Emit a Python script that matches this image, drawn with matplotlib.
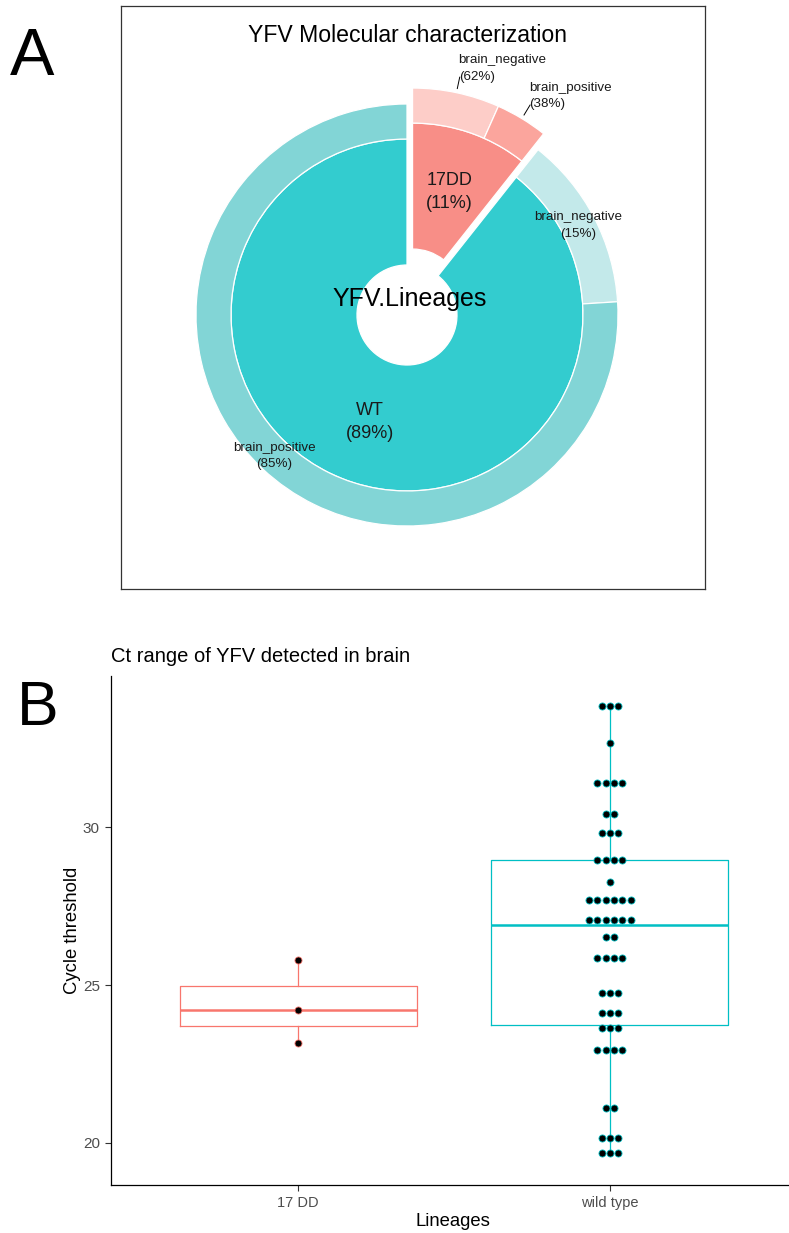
import numpy as np
import matplotlib
matplotlib.use("Agg")
import matplotlib.pyplot as plt

plt.rcParams["font.family"] = ["Liberation Sans", "DejaVu Sans"]

# ---------------- Panel A data ----------------
lineages = ["17DD", "WT"]
brain_status = ["brain_negative", "brain_positive"]
counts_17dd = [5, 3]      # brain_negative, brain_positive
counts_wt = [10, 57]      # brain_negative, brain_positive

# ---------------- Panel B data ----------------
box_categories = ["17 DD", "wild type"]
ct_17dd_values = [25.79, 24.21, 23.16]
ct_17dd_counts = [1, 1, 1]
ct_wt_values = [33.84, 32.65, 31.40, 30.41, 29.80, 28.96, 28.27, 27.69, 27.06,
                26.53, 25.86, 24.74, 24.12, 23.65, 22.94, 21.12, 20.15, 19.67]
ct_wt_counts = [3, 1, 4, 2, 3, 4, 1, 6, 6, 2, 4, 3, 3, 3, 4, 2, 3, 3]
box_17dd = dict(whislo=23.16, q1=23.70, med=24.21, q3=24.97, whishi=25.79)
box_wt = dict(whislo=19.67, q1=23.73, med=26.91, q3=28.97, whishi=33.84)
y_ticks = [20, 25, 30]

# colours
inner_colors = ["#F88E87", "#33CCCF"]
outer_colors = ["#FDCDC8", "#FBA59D", "#C3E9EA", "#82D5D6"]
line_colors = ["#F8766D", "#00BFC4"]

W, H = 789, 1233
fig = plt.figure(figsize=(W / 100, H / 100), dpi=100)

# ================= Panel A =================
R_OUT, R_IN, R0, EXPL = 1.0, 0.834, 0.237, 0.08
S = 211.0  # px per unit
axA = fig.add_axes([121 / W, (H - 589) / H, 584 / W, 583 / H])

group_totals = [sum(counts_17dd), sum(counts_wt)]
total = sum(group_totals)
inner_w, _ = axA.pie(group_totals, radius=R_IN, startangle=90, counterclock=False,
                     colors=inner_colors, explode=[EXPL, 0],
                     wedgeprops=dict(width=R_IN - R0, edgecolor="white", linewidth=0.9))
outer_vals = counts_17dd + counts_wt
outer_w, _ = axA.pie(outer_vals, radius=R_OUT, startangle=90, counterclock=False,
                     colors=outer_colors,
                     wedgeprops=dict(width=R_OUT - R_IN, edgecolor="white", linewidth=0.9))
# shift the exploded group's donut pieces with the pie slice
th17 = np.deg2rad(90 - 360 * group_totals[0] / total / 2)
dx, dy = EXPL * np.cos(th17), EXPL * np.sin(th17)
for w in outer_w[:2]:
    w.set_center((dx, dy))

axA.set_aspect("auto")
axA.set_xlim(-286 / S, 298 / S)
axA.set_ylim(-274 / S, 309 / S)
axA.set_frame_on(True)
for sp in axA.spines.values():
    sp.set_visible(True)
    sp.set_color("#333333")
    sp.set_linewidth(0.9)
axA.set_xticks([])
axA.set_yticks([])

# inner labels
start = 90.0
for i, (name, n) in enumerate(zip(lineages, group_totals)):
    span = 360 * n / total
    mid = np.deg2rad(start - span / 2)
    cx, cy = (dx, dy) if i == 0 else (0, 0)
    rho = (R0 + R_IN) / 2
    axA.text(cx + rho * np.cos(mid), cy + rho * np.sin(mid),
             f"{name}\n({round(100 * n / total)}%)", ha="center", va="center",
             fontsize=13, linespacing=1.45, color="#1a1a1a")
    start -= span

# outer labels
start = 90.0
for gi, cnts in enumerate([counts_17dd, counts_wt]):
    gsum = sum(cnts)
    for si, n in enumerate(cnts):
        span = 360 * n / total
        mid = np.deg2rad(start - span / 2)
        lab = f"{brain_status[si]}\n({round(100 * n / gsum)}%)"
        if gi == 0:
            x0, y0 = dx + 1.02 * np.cos(mid), dy + 1.02 * np.sin(mid)
            x1, y1 = dx + 1.075 * np.cos(mid), dy + 1.075 * np.sin(mid)
            axA.plot([x0, x1], [y0, y1], color="black", lw=0.7, clip_on=False)
            axA.text(x1 - 0.005, y1 + 0.042, lab, ha="left", va="center",
                     fontsize=9.6, linespacing=1.5, multialignment="left", color="#1a1a1a")
        else:
            rho = (R_IN + R_OUT) / 2
            axA.text(rho * np.cos(mid), rho * np.sin(mid), lab, ha="center", va="center",
                     fontsize=9.6, linespacing=1.5, color="#1a1a1a")
        start -= span

axA.text(3 / S, 16 / S, "YFV.Lineages", ha="center", va="center", fontsize=18, color="black")
fig.text(407.5 / W, 1 - 35 / H, "YFV Molecular characterization", ha="center", va="center",
         fontsize=16.6, color="black")

# panel letters
fig.text(10 / W, 1 - 75 / H, "A", ha="left", va="baseline", fontsize=48)
fig.text(17 / W, 1 - 725 / H, "B", ha="left", va="baseline", fontsize=45)

# ================= Panel B =================
axB = fig.add_axes([111 / W, (H - 1185) / H, 686 / W, 509 / H])
positions = [1, 2]
for pos, st, col in zip(positions, [box_17dd, box_wt], line_colors):
    stats = dict(st)
    stats["fliers"] = []
    axB.bxp([stats], positions=[pos], widths=0.76, showfliers=False, showcaps=False,
            boxprops=dict(color=col, linewidth=0.9),
            whiskerprops=dict(color=col, linewidth=0.9),
            medianprops=dict(color=col, linewidth=1.8),
            manage_ticks=False)

dot_step = 0.0266
for pos, vals, cnts, col in zip(positions, [ct_17dd_values, ct_wt_values],
                                [ct_17dd_counts, ct_wt_counts], line_colors):
    xs, ys = [], []
    for v, c in zip(vals, cnts):
        offs = (np.arange(c) - (c - 1) / 2) * dot_step
        xs.extend(pos + offs)
        ys.extend([v] * c)
    axB.scatter(xs, ys, s=26, c="black", edgecolors=col, linewidths=0.6, zorder=5)

axB.set_xlim(0.4, 2.6)
axB.set_ylim(18.67, 34.78)
axB.set_xticks(positions)
axB.set_xticklabels(box_categories)
axB.set_yticks(y_ticks)
for side in ["top", "right"]:
    axB.spines[side].set_visible(False)
for side in ["left", "bottom"]:
    axB.spines[side].set_color("black")
    axB.spines[side].set_linewidth(0.9)
axB.tick_params(axis="both", direction="out", length=4, width=0.8, color="#333333",
                labelcolor="#4D4D4D")
axB.tick_params(axis="y", labelsize=11, pad=4)
axB.tick_params(axis="x", labelsize=10.5, pad=4)

fig.text(111 / W, 1 - 657 / H, "Ct range of YFV detected in brain", ha="left", va="center",
         fontsize=14.5, color="black")
fig.text(72.5 / W, 1 - 930 / H, "Cycle threshold", rotation=90, ha="center", va="center",
         fontsize=13.3, color="black")
fig.text(453 / W, 1 - 1221 / H, "Lineages", ha="center", va="center", fontsize=13.3,
         color="black")

fig.savefig("out.png", dpi=100)
